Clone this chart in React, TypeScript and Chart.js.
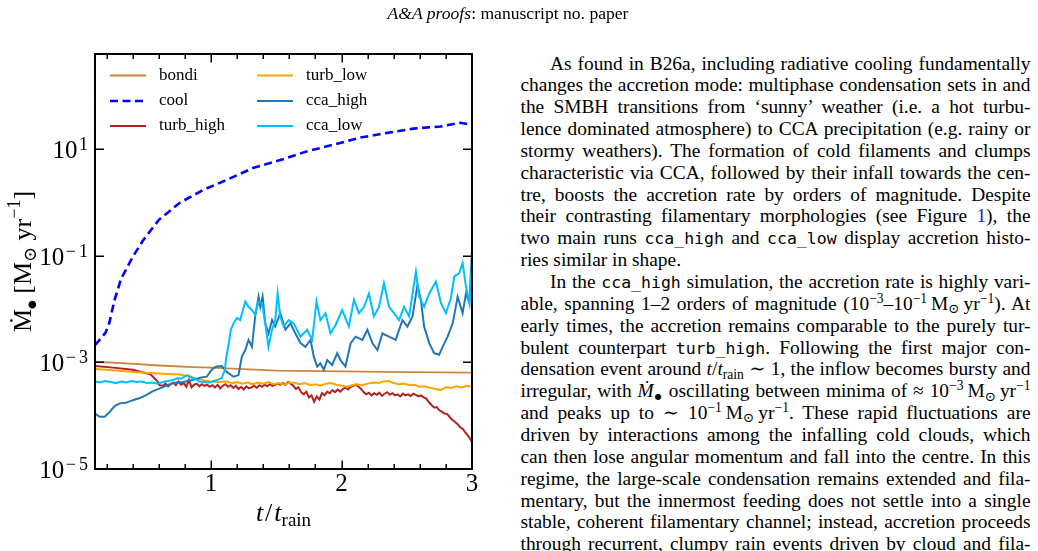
import React, { useEffect, useRef } from "react";
import { Chart, registerables } from "chart.js";

Chart.register(...registerables);

// ---------- data (t / t_rain, log10 of accretion rate in Msun/yr) ----------
const BONDI_T = [0.11, 0.35, 0.6, 0.86, 1.0, 1.5, 2.0, 2.5, 3.0];
const BONDI_LOG = [-2.99, -3.02, -3.06, -3.09, -3.1, -3.155, -3.17, -3.185, -3.195];

const COOL_T = [0.11, 0.19, 0.22, 0.26, 0.285, 0.3, 0.32, 0.4, 0.48, 0.6, 0.76, 0.94, 1.12, 1.32, 1.53, 1.73, 1.94, 2.14, 2.35, 2.55, 2.76, 2.91, 3.0];
const COOL_LOG = [-2.68, -2.45, -2.26, -1.83, -1.64, -1.51, -1.39, -1.02, -0.71, -0.33, -0.01, 0.23, 0.42, 0.64, 0.79, 0.95, 1.08, 1.21, 1.3, 1.38, 1.42, 1.49, 1.45];

const TURB_HIGH_T = [0.11, 0.25, 0.4, 0.48, 0.53, 0.555, 0.59, 0.605,
  0.63, 0.65, 0.67, 0.69, 0.71, 0.73, 0.75, 0.77, 0.79, 0.81, 0.83, 0.85, 0.87, 0.89, 0.91, 0.93, 0.95, 0.97, 0.99,
  1.01, 1.03, 1.05, 1.07, 1.09, 1.11, 1.13, 1.15, 1.17, 1.19, 1.21, 1.23, 1.25, 1.27, 1.29, 1.31, 1.33, 1.35, 1.37, 1.39,
  1.41, 1.43, 1.45, 1.47, 1.49, 1.51, 1.53, 1.55, 1.57, 1.59, 1.61, 1.63, 1.65, 1.67, 1.69, 1.71, 1.73, 1.75, 1.77, 1.79,
  1.81, 1.83, 1.85, 1.87, 1.89, 1.91, 1.93, 1.95, 1.97, 1.99, 2.01, 2.03, 2.05, 2.07, 2.09, 2.11, 2.13, 2.15, 2.17, 2.19,
  2.21, 2.23, 2.25, 2.27, 2.29, 2.31, 2.33, 2.35, 2.37, 2.39, 2.41, 2.43, 2.45, 2.47, 2.49, 2.51, 2.53, 2.55, 2.57, 2.59,
  2.61, 2.63, 2.65, 2.67, 2.69, 2.71, 2.73, 2.75, 2.77, 2.79, 2.81, 2.83, 2.85, 2.87, 2.89, 2.91, 2.93, 2.95, 2.97, 2.99, 3.0];
const TURB_HIGH_LOG = [-3.07, -3.1, -3.14, -3.19, -3.22, -3.27, -3.36, -3.43,
  -3.44, -3.4, -3.45, -3.41, -3.38, -3.43, -3.36, -3.42, -3.39, -3.46, -3.33, -3.47, -3.42, -3.4, -3.45, -3.41, -3.44, -3.42, -3.46,
  -3.43, -3.47, -3.42, -3.49, -3.44, -3.41, -3.46, -3.43, -3.48, -3.44, -3.5, -3.46, -3.51, -3.45, -3.49, -3.47, -3.44, -3.48, -3.43, -3.46,
  -3.42, -3.45, -3.41, -3.44, -3.42, -3.4, -3.42, -3.39, -3.42, -3.37, -3.4, -3.44, -3.5, -3.47, -3.56, -3.6, -3.55, -3.66, -3.62, -3.74,
  -3.64, -3.7, -3.58, -3.62, -3.55, -3.58, -3.52, -3.56, -3.51, -3.55, -3.5, -3.47, -3.51, -3.46, -3.44, -3.42, -3.46, -3.5, -3.56, -3.6,
  -3.57, -3.62, -3.58, -3.61, -3.57, -3.63, -3.59, -3.56, -3.61, -3.58, -3.62, -3.6, -3.64, -3.59, -3.62, -3.6, -3.63, -3.59, -3.61, -3.64,
  -3.62, -3.66, -3.68, -3.75, -3.8, -3.85, -3.84, -3.9, -3.93, -3.96, -3.97, -4.03, -4.08, -4.12, -4.16, -4.22, -4.25, -4.32, -4.38, -4.45, -4.5];

const TURB_LOW_T = [0.11, 0.25, 0.4, 0.6, 0.76, 0.84, 0.91, 0.99, 1.05,
  1.12, 1.16, 1.2, 1.24, 1.28, 1.32, 1.36, 1.4, 1.44, 1.48, 1.52, 1.56, 1.6, 1.64, 1.68, 1.72, 1.76, 1.8, 1.84, 1.88,
  1.92, 1.96, 2.0, 2.04, 2.08, 2.12, 2.16, 2.2, 2.24, 2.28, 2.32, 2.36, 2.4, 2.44, 2.48, 2.52, 2.56, 2.6, 2.64, 2.68,
  2.72, 2.76, 2.8, 2.84, 2.88, 2.92, 2.96, 3.0];
const TURB_LOW_LOG = [-3.125, -3.15, -3.18, -3.21, -3.23, -3.27, -3.32, -3.36, -3.37,
  -3.36, -3.39, -3.37, -3.4, -3.38, -3.41, -3.38, -3.4, -3.37, -3.41, -3.39, -3.42, -3.38, -3.385, -3.41, -3.39, -3.43, -3.41, -3.44, -3.4,
  -3.39, -3.42, -3.44, -3.46, -3.43, -3.41, -3.43, -3.4, -3.38, -3.39, -3.36, -3.35, -3.39, -3.41, -3.4, -3.43, -3.42, -3.46, -3.45, -3.48,
  -3.5, -3.52, -3.47, -3.48, -3.45, -3.47, -3.44, -3.46];

const CCA_HIGH_T = [0.11, 0.146, 0.185, 0.223, 0.26, 0.3, 0.346, 0.4, 0.454, 0.505, 0.554, 0.608, 0.654, 0.71, 0.785, 0.864, 0.915,
  0.967, 0.992, 1.018, 1.044, 1.082, 1.12, 1.172, 1.21, 1.236, 1.262, 1.287, 1.313, 1.338, 1.364, 1.377, 1.395, 1.415, 1.44,
  1.467, 1.492, 1.53, 1.57, 1.608, 1.646, 1.685, 1.723, 1.762, 1.787, 1.813, 1.838, 1.864, 1.89, 1.928, 1.967, 1.992, 2.03,
  2.07, 2.108, 2.16, 2.198, 2.236, 2.275, 2.313, 2.364, 2.415, 2.467, 2.505, 2.544, 2.582, 2.608, 2.633, 2.672, 2.71, 2.748,
  2.775, 2.813, 2.852, 2.89, 2.928, 2.954, 2.98, 3.0];
const CCA_HIGH_LOG = [-3.96, -4.02, -4.02, -3.93, -3.82, -3.77, -3.76, -3.71, -3.67, -3.61, -3.54, -3.49, -3.44, -3.39, -3.37, -3.33, -3.29,
  -3.27, -3.18, -3.11, -3.08, -3.07, -3.18, -3.27, -3.24, -2.89, -2.77, -2.58, -2.71, -2.14, -1.77, -1.96, -1.77, -2.27, -2.46,
  -2.21, -2.33, -2.08, -2.39, -2.27, -2.46, -2.64, -2.71, -2.58, -2.89, -3.08, -3.02, -3.14, -2.96, -3.05, -2.83, -2.96, -3.08,
  -2.64, -2.52, -2.58, -2.39, -2.64, -2.77, -2.46, -2.52, -2.58, -2.21, -2.33, -2.14, -1.55, -1.83, -2.33, -2.64, -2.83, -2.86,
  -2.71, -2.52, -2.27, -1.77, -2.08, -1.71, -1.89, -0.89];

const CCA_LOW_T = [0.11, 0.15, 0.19, 0.23, 0.27, 0.31, 0.35, 0.39, 0.43, 0.47, 0.51, 0.55, 0.59, 0.63, 0.67, 0.71, 0.74, 0.77,
  0.8, 0.82, 0.85, 0.88, 0.91, 0.95, 0.99, 1.02, 1.05, 1.08, 1.105, 1.117, 1.14, 1.15, 1.172, 1.198, 1.223, 1.262, 1.287,
  1.313, 1.338, 1.364, 1.39, 1.415, 1.44, 1.467, 1.492, 1.51, 1.53, 1.556, 1.595, 1.633, 1.685, 1.736, 1.775, 1.808, 1.838,
  1.877, 1.915, 1.954, 2.005, 2.056, 2.095, 2.133, 2.172, 2.21, 2.248, 2.287, 2.325, 2.364, 2.402, 2.44, 2.479, 2.518, 2.57,
  2.595, 2.633, 2.672, 2.723, 2.762, 2.8, 2.838, 2.864, 2.902, 2.928, 2.954, 2.98, 3.0];
const CCA_LOW_LOG = [-3.36, -3.38, -3.35, -3.37, -3.39, -3.36, -3.38, -3.35, -3.37, -3.36, -3.39, -3.38, -3.4, -3.37, -3.35, -3.33, -3.3, -3.31,
  -3.26, -3.24, -3.29, -3.31, -3.36, -3.37, -3.38, -3.35, -3.33, -3.3, -3.15, -2.9, -2.58, -2.4, -2.27, -2.17, -2.21, -1.86, -1.96,
  -2.02, -2.11, -1.86, -1.89, -2.27, -2.71, -2.39, -2.21, -1.71, -2.14, -2.33, -2.21, -2.27, -2.52, -2.39, -2.58, -1.86, -2.21,
  -2.08, -2.46, -2.3, -2.02, -2.33, -1.83, -2.08, -1.96, -1.71, -2.14, -1.96, -1.52, -1.96, -2.08, -2.21, -1.96, -2.14, -1.3,
  -1.77, -1.96, -1.71, -1.49, -1.89, -2.08, -1.8, -1.39, -1.33, -1.14, -1.58, -1.89, -1.12];

const SERIES_NAMES = ["bondi", "cool", "turb_high", "turb_low", "cca_high", "cca_low"];
const SERIES_COLORS = ["#cd853f", "#0000ff", "#b22222", "#ffa500", "#1f77b4", "#00bfff"];

const X_MAJOR = [1, 2, 3];
const X_MAJOR_LABELS = ["1", "2", "3"];
const X_MINOR = [0.2, 0.4, 0.6, 0.8, 1.2, 1.4, 1.6, 1.8, 2.2, 2.4, 2.6, 2.8];
const Y_MAJOR = [1e1, 1e-1, 1e-3, 1e-5];
const Y_EXPONENTS = ["1", "\u22121", "\u22123", "\u22125"];

const SERIF = '"Liberation Serif", "DejaVu Serif", serif';

function pts(t: number[], lg: number[]) {
  return t.map((x, i) => ({ x, y: Math.pow(10, lg[i]) }));
}

const decorPlugin = {
  id: "decor",
  afterDatasetsDraw(chart: any) {
    const { ctx, chartArea: a, scales } = chart;
    const xs = scales.x;
    const ys = scales.y;
    ctx.save();
    ctx.strokeStyle = "#000";
    ctx.fillStyle = "#000";
    const seg = (x1: number, y1: number, x2: number, y2: number) => {
      ctx.beginPath();
      ctx.moveTo(x1, y1);
      ctx.lineTo(x2, y2);
      ctx.stroke();
    };
    // ticks (inward, all four sides)
    ctx.lineWidth = 1.5;
    X_MINOR.forEach((v) => {
      const px = Math.round(xs.getPixelForValue(v)) + 0.25;
      seg(px, a.bottom, px, a.bottom - 5);
      seg(px, a.top, px, a.top + 5);
    });
    X_MAJOR.forEach((v) => {
      const px = Math.round(xs.getPixelForValue(v)) + 0.25;
      seg(px, a.bottom, px, a.bottom - 8.5);
      seg(px, a.top, px, a.top + 8.5);
    });
    Y_MAJOR.forEach((v) => {
      const py = Math.round(ys.getPixelForValue(v)) + 0.25;
      seg(a.left, py, a.left + 9, py);
      seg(a.right, py, a.right - 9, py);
    });
    // frame
    ctx.lineWidth = 2;
    ctx.strokeRect(a.left, a.top, a.right - a.left, a.bottom - a.top);

    // x tick labels
    ctx.font = `25px ${SERIF}`;
    ctx.textAlign = "center";
    ctx.textBaseline = "alphabetic";
    X_MAJOR.forEach((v, i) => {
      ctx.fillText(X_MAJOR_LABELS[i], xs.getPixelForValue(v), a.bottom + 22);
    });

    // y tick labels 10^n
    ctx.textAlign = "left";
    Y_MAJOR.forEach((v, i) => {
      const py = ys.getPixelForValue(v);
      const exp = Y_EXPONENTS[i];
      ctx.font = `25px ${SERIF}`;
      const w1 = ctx.measureText("10").width;
      ctx.font = `18px ${SERIF}`;
      const parts = exp.length > 1 ? [exp[0], exp.slice(1)] : [exp];
      const pw = parts.map((p) => ctx.measureText(p).width);
      const w2 = pw.reduce((s, w) => s + w, 0) + (parts.length > 1 ? 3 : 0);
      const xRight = a.left - 7;
      const x0 = xRight - w1 - 1.5 - w2;
      ctx.font = `25px ${SERIF}`;
      ctx.fillText("10", x0, py + 9);
      ctx.font = `18px ${SERIF}`;
      let cx = x0 + w1 + 1.5;
      parts.forEach((p, k) => {
        ctx.fillText(p, cx, py + 1);
        cx += pw[k] + 3;
      });
    });

    // x axis title  t / t_rain
    {
      const big = `italic 26px ${SERIF}`;
      const rom = `26px ${SERIF}`;
      const sm = `19px ${SERIF}`;
      const pieces: [string, string, number, number][] = [
        ["t", big, 0, 2],
        ["/", rom, 0, 2],
        ["t", big, 0, 0],
        ["rain", sm, 5, 0],
      ];
      let total = 0;
      const widths = pieces.map(([s, f, , g]) => {
        ctx.font = f;
        const w = ctx.measureText(s).width;
        total += w + g;
        return w;
      });
      let cx = (a.left + a.right) / 2 - total / 2;
      const base = a.bottom + 52;
      pieces.forEach(([s, f, dy, g], i) => {
        ctx.font = f;
        ctx.fillText(s, cx, base + dy);
        cx += widths[i] + g;
      });
    }

    // y axis title  Ṁ● [M⊙ yr^-1]
    {
      const big = `26px ${SERIF}`;
      const sm = `18px ${SERIF}`;
      const dot = `10px "DejaVu Sans", sans-serif`;
      const pieces: [string, string, number][] = [
        ["\u1E40", big, 0],
        ["\u25CF", dot, 4],
        [" [M", big, 0],
        ["\u2299", sm, 5],
        [" yr", big, 0],
        ["\u22121", sm, -11],
        ["]", big, 0],
      ];
      let total = 0;
      const widths = pieces.map(([s, f]) => {
        ctx.font = f;
        const w = ctx.measureText(s).width;
        total += w;
        return w;
      });
      ctx.save();
      ctx.translate(31, (a.top + a.bottom) / 2);
      ctx.rotate(-Math.PI / 2);
      let cx = -total / 2;
      pieces.forEach(([s, f, dy], i) => {
        ctx.font = f;
        ctx.fillText(s, cx, dy);
        cx += widths[i];
      });
      ctx.restore();
    }

    // legend (two columns inside axes)
    {
      const cols = [
        { x1: a.left + 15, x2: a.left + 51, tx: a.left + 64 },
        { x1: a.left + 162, x2: a.left + 198, tx: a.left + 211 },
      ];
      const rows = [a.top + 21.5, a.top + 47, a.top + 72];
      const dsets = chart.data.datasets;
      SERIES_NAMES.forEach((name, i) => {
        const c = cols[Math.floor(i / 3)];
        const ry = rows[i % 3];
        const ds = dsets[i];
        ctx.save();
        ctx.strokeStyle = ds.borderColor;
        ctx.lineWidth = ds.borderWidth;
        ctx.setLineDash(ds.borderDash || []);
        seg(c.x1, ry, c.x2, ry);
        ctx.restore();
        ctx.font = `17px ${SERIF}`;
        ctx.fillStyle = "#000";
        ctx.textBaseline = "middle";
        ctx.fillText(name, c.tx, ry);
        ctx.textBaseline = "alphabetic";
      });
    }
    ctx.restore();
  },
};

function ChartPanel() {
  const ref = useRef<HTMLCanvasElement | null>(null);
  useEffect(() => {
    if (!ref.current) return;
    const series = [
      pts(BONDI_T, BONDI_LOG),
      pts(COOL_T, COOL_LOG),
      pts(TURB_HIGH_T, TURB_HIGH_LOG),
      pts(TURB_LOW_T, TURB_LOW_LOG),
      pts(CCA_HIGH_T, CCA_HIGH_LOG),
      pts(CCA_LOW_T, CCA_LOW_LOG),
    ];
    const widths = [1.8, 2.6, 2.0, 2.0, 2.0, 2.0];
    const chart = new Chart(ref.current, {
      type: "line",
      data: {
        datasets: series.map((d, i) => ({
          label: SERIES_NAMES[i],
          data: d,
          borderColor: SERIES_COLORS[i],
          backgroundColor: SERIES_COLORS[i],
          borderWidth: widths[i],
          borderDash: i === 1 ? [8, 4.5] : [],
          pointRadius: 0,
          fill: false,
          tension: 0,
          order: 5 - i,
        })),
      },
      options: {
        responsive: false,
        animation: false,
        devicePixelRatio: 1,
        events: [],
        layout: { padding: { left: 95, top: 54, right: 28, bottom: 82 } },
        plugins: { legend: { display: false }, tooltip: { enabled: false } },
        scales: {
          x: { type: "linear", min: 0.11, max: 3.0, display: false },
          y: { type: "logarithmic", min: 1e-5, max: 600, display: false },
        },
      },
      plugins: [decorPlugin],
    } as any);
    return () => chart.destroy();
  }, []);
  return (
    <canvas
      ref={ref}
      width={500}
      height={551}
      style={{ position: "absolute", left: 0, top: 0, width: 500, height: 551 }}
    />
  );
}

const mono: React.CSSProperties = { fontFamily: '"DejaVu Sans Mono", monospace', fontSize: "16.5px" };
const Mono = ({ children }: { children: React.ReactNode }) => <span style={mono}>{children}</span>;
const Sup = ({ children }: { children: React.ReactNode }) => (
  <span style={{ fontSize: "0.7em", position: "relative", top: "-0.5em" }}>{children}</span>
);
const Sub = ({ children }: { children: React.ReactNode }) => (
  <span style={{ fontSize: "0.7em", position: "relative", top: "0.25em" }}>{children}</span>
);
const Msun = () => (
  <>
    M<Sub>{"\u2299"}</Sub>
    {"\u2009"}yr<Sup>{"\u22121"}</Sup>
  </>
);

type Line = { indent?: boolean; last?: boolean; c: React.ReactNode };
const LINES: Line[] = [
  { indent: true, c: <>As found in B26a, including radiative cooling fundamentally</> },
  { c: <>changes the accretion mode: multiphase condensation sets in and</> },
  { c: <>the SMBH transitions from ‘sunny’ weather (i.e. a hot turbu-</> },
  { c: <>lence dominated atmosphere) to CCA precipitation (e.g. rainy or</> },
  { c: <>stormy weathers). The formation of cold filaments and clumps</> },
  { c: <>characteristic via CCA, followed by their infall towards the cen-</> },
  { c: <>tre, boosts the accretion rate by orders of magnitude. Despite</> },
  { c: <>their contrasting filamentary morphologies (see Figure <span style={{ color: "#2323e0" }}>1</span>), the</> },
  { c: <>two main runs <Mono>cca_high</Mono> and <Mono>cca_low</Mono> display accretion histo-</> },
  { last: true, c: <>ries similar in shape.</> },
  { indent: true, c: <>In the <Mono>cca_high</Mono> simulation, the accretion rate is highly vari-</> },
  { c: <>able, spanning 1–2 orders of magnitude (10<Sup>{"\u22123"}</Sup>–10<Sup>{"\u22121"}</Sup>{"\u2009"}<Msun />). At</> },
  { c: <>early times, the accretion remains comparable to the purely tur-</> },
  { c: <>bulent counterpart <Mono>turb_high</Mono>. Following the first major con-</> },
  { c: <>densation event around <i>t</i>/<i>t</i><Sub>rain</Sub> {"\u223C"} 1, the inflow becomes bursty and</> },
  {
    c: (
      <>
        irregular, with <i>{"\u1E40"}</i>
        <span style={{ fontFamily: '"DejaVu Sans", sans-serif', fontSize: "8px", position: "relative", top: "0.2em" }}>{"\u25CF"}</span> oscillating between minima of {"\u2248"} 10<Sup>{"\u22123"}</Sup>{"\u2009"}<Msun />
      </>
    ),
  },
  { c: <>and peaks up to {"\u223C"} 10<Sup>{"\u22121"}</Sup>{"\u2009"}<Msun />. These rapid fluctuations are</> },
  { c: <>driven by interactions among the infalling cold clouds, which</> },
  { c: <>can then lose angular momentum and fall into the centre. In this</> },
  { c: <>regime, the large-scale condensation remains extended and fila-</> },
  { c: <>mentary, but the innermost feeding does not settle into a single</> },
  { c: <>stable, coherent filamentary channel; instead, accretion proceeds</> },
  { c: <>through recurrent, clumpy rain events driven by cloud and fila-</> },
];

export default function App() {
  return (
    <div
      style={{
        position: "absolute",
        left: 0,
        top: 0,
        width: 1038,
        height: 551,
        overflow: "hidden",
        background: "#fff",
        fontFamily: SERIF,
        color: "#000",
      }}
    >
      <ChartPanel />
      <div
        style={{
          position: "absolute",
          left: 308,
          width: 400,
          top: 5.2,
          textAlign: "center",
          fontSize: "17.6px",
          lineHeight: "17.6px",
          whiteSpace: "nowrap",
        }}
      >
        <i>A&amp;A proofs</i>: manuscript no. paper
      </div>
      {LINES.map((ln, i) => (
        <div
          key={i}
          style={{
            position: "absolute",
            left: ln.indent ? 550 : 520.5,
            width: ln.indent ? 480.5 : 510,
            top: 52.5 + i * 21.85,
            fontSize: "19.4px",
            lineHeight: "21.85px",
            whiteSpace: "nowrap",
            textAlign: ln.last ? "left" : "justify",
            textAlignLast: ln.last ? "left" : "justify",
          }}
        >
          {ln.c}
        </div>
      ))}
    </div>
  );
}
